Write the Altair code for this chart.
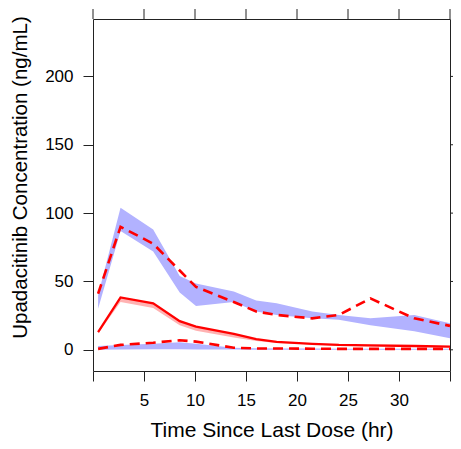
import altair as alt
import pandas as pd

# Bin midpoints (hours since last dose)
time_hr = [0.5, 2.7, 5.9, 8.5, 10.1, 13.8, 16.0, 18.0, 21.5, 24.1, 27.2, 31.5, 35.0]

# Simulated prediction intervals (blue = 5th/95th percentiles, pink = median)
pi95_lo = [30, 87, 72, 42, 32, 35, 28, 25.5, 23, 22, 18, 13.6, 8.5]
pi95_hi = [40, 104, 88, 54, 48.5, 42.6, 36, 34, 28, 25.5, 23, 25.5, 19.4]
pi50_lo = [12, 35, 30.5, 18, 14, 9, 6.5, 5, 3.8, 3, 2.5, 2, 1.8]
pi50_hi = [14, 38, 33.5, 21, 16.5, 11.5, 8, 6, 4.6, 3.6, 3.1, 2.7, 2.3]
pi05_lo = [0, 0.3, 0.5, 0.5, 0.3, 0.2, 0.1, 0.1, 0.1, 0.1, 0.1, 0.1, 0.1]
pi05_hi = [2.8, 3.5, 4.5, 5.5, 4.5, 1.5, 1.2, 1.0, 0.9, 0.8, 0.8, 0.7, 0.7]

# Observed percentiles (red lines)
obs95 = [41, 90, 77.6, 58, 46, 35, 28, 25.5, 23, 25.5, 37.6, 23, 17.5]
obs50 = [13, 38.3, 34, 21, 17, 11.6, 7.8, 5.8, 4.4, 3.6, 3.2, 2.8, 2.4]
obs05 = [0.7, 3.6, 5.2, 7, 6, 1.5, 1.0, 1.0, 0.8, 0.7, 0.7, 0.7, 0.7]

x_ticks = [0, 5, 10, 15, 20, 25, 30, 35]
y_ticks = [0, 50, 100, 150, 200]

df = pd.DataFrame({
    "t": time_hr,
    "pi95_lo": pi95_lo, "pi95_hi": pi95_hi,
    "pi50_lo": pi50_lo, "pi50_hi": pi50_hi,
    "pi05_lo": pi05_lo, "pi05_hi": pi05_hi,
    "obs95": obs95, "obs50": obs50, "obs05": obs05,
})
xt_df = pd.DataFrame({"v": x_ticks})
yt_df = pd.DataFrame({"v": y_ticks})

FONT = "Liberation Sans"
W, H = 357, 352
TICK = 10
TICK_COLOR = "#222222"

xscale = alt.Scale(domain=[0, 35], nice=False, zero=False)
yscale = alt.Scale(domain=[-15.5, 242], nice=False, zero=False)

common_axis = dict(domain=False, grid=False, tickSize=TICK, tickColor=TICK_COLOR,
                   tickWidth=1, labelFont=FONT, labelFontSize=17, labelColor="black",
                   titleFont=FONT, titleFontWeight="normal", titleColor="black")

x_bottom = alt.Axis(values=x_ticks, labelExpr="(datum.value == 0 || datum.value == 35) ? '' : datum.label",
                    title="Time Since Last Dose (hr)", titleFontSize=21, labelPadding=11,
                    titlePadding=11.5, orient="bottom", **common_axis)
y_left = alt.Axis(values=y_ticks, title="Upadacitinib Concentration (ng/mL)", titleFontSize=20.5,
                  labelPadding=10, titlePadding=14, titleY=158, orient="left", **common_axis)

base = alt.Chart(df)

band95 = base.mark_area(color="#b2b2ff", opacity=1).encode(
    x=alt.X("t:Q", scale=xscale, axis=x_bottom),
    y=alt.Y("pi95_lo:Q", scale=yscale, axis=y_left),
    y2="pi95_hi:Q",
)
band50 = base.mark_area(color="#ffb2b2", opacity=1).encode(
    x=alt.X("t:Q"), y=alt.Y("pi50_lo:Q"), y2="pi50_hi:Q",
)
band05 = base.mark_area(color="#b2b2ff", opacity=1).encode(
    x=alt.X("t:Q"), y=alt.Y("pi05_lo:Q"), y2="pi05_hi:Q",
)

def obs_line(col, dashed):
    kw = dict(color="#ff0000", strokeWidth=2.3)
    if dashed:
        kw["strokeDash"] = [10, 6]
        kw["strokeWidth"] = 2.6
    return base.mark_line(**kw).encode(x=alt.X("t:Q"), y=alt.Y(f"{col}:Q"))

# Lattice-style outward ticks on the top and right edges (no labels)
top_ticks = alt.Chart(xt_df).mark_rule(color=TICK_COLOR, strokeWidth=1).encode(
    x=alt.X("v:Q"), y=alt.value(0), y2=alt.value(-TICK),
)
right_ticks = alt.Chart(yt_df).mark_rule(color=TICK_COLOR, strokeWidth=1).encode(
    y=alt.Y("v:Q"), x=alt.value(W), x2=alt.value(W + TICK),
)

chart = alt.layer(
    band95, band50, band05,
    obs_line("obs95", True), obs_line("obs50", False), obs_line("obs05", True),
    top_ticks, right_ticks,
).properties(
    width=W, height=H,
    autosize=alt.AutoSizeParams(type="none"),
    padding={"left": 85, "top": 11, "right": 3, "bottom": 70},
).configure_view(stroke=TICK_COLOR, strokeWidth=1)

chart.save("out.html", embed_options={"renderer": "svg", "actions": False})
